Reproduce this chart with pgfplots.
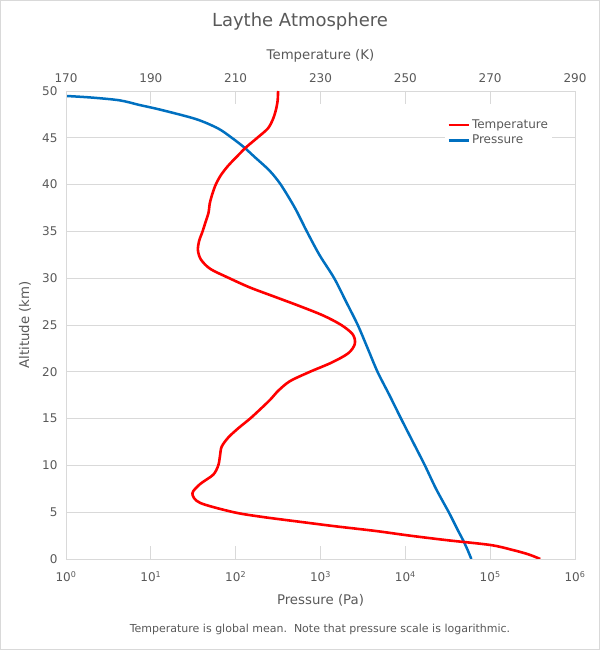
\documentclass[border=0pt]{standalone}
\usepackage{fontspec}
\setmainfont{DejaVu Sans}
\usepackage{pgfplots}
\pgfplotsset{compat=1.18}
\definecolor{tred}{HTML}{FF0000}
\definecolor{pblue}{HTML}{0070C0}
\definecolor{txt}{HTML}{595959}
\definecolor{gridc}{HTML}{D9D9D9}

\begin{document}
\begin{tikzpicture}
\useasboundingbox (0,0) rectangle (600pt,650pt);
\draw[gridc] (0.5pt,0.5pt) rectangle (599.5pt,649.5pt);

\pgfplotsset{
  common/.style={
    scale only axis, width=509pt, height=468pt,
    at={(66pt,91pt)}, anchor=south west,
    ymin=0, ymax=50,
    axis line style={gridc, line width=0.8pt},
    tick style={gridc, line width=0.8pt},
    major tick length=13pt,
    tick align=inside,
    ticklabel style={font=\fontsize{12}{14}\selectfont, text=txt},
    /pgf/number format/assume math mode=true,
    label style={font=\fontsize{13.3}{16}\selectfont, text=txt},
  }
}

% pressure, bottom log axis
\begin{axis}[common,
  xmode=log, xmin=1, xmax=1e6,
  xtick={1,10,100,1000,10000,100000,1000000},
  xticklabels={10\textsuperscript{0},10\textsuperscript{1},10\textsuperscript{2},10\textsuperscript{3},10\textsuperscript{4},10\textsuperscript{5},10\textsuperscript{6}},
  xtick pos=left, xticklabel pos=left,
  xminorticks=false,
  xticklabel style={yshift=-9pt},
  ytick={0,5,...,50}, ytick style={draw=none},
  yticklabel style={xshift=-5pt},
  ymajorgrids, grid style={gridc, line width=0.8pt},
  xlabel={Pressure (Pa)}, ylabel={Altitude (km)},
  xlabel style={at={(axis description cs:0.5,-0.0876)}, anchor=center},
  ylabel style={at={(axis description cs:-0.0806,0.5)}, anchor=center},
  title={Laythe Atmosphere},
  title style={at={(axis description cs:0.4597,1.135)}, anchor=center, yshift=0pt,
    font=\fontsize{18}{22}\selectfont, text=txt},
]
\addplot[pblue, line width=2.5pt, smooth, tension=0.5] coordinates {
(60000,0) (54000,1) (48000,2) (42000,3) (37000,4) (32500,5)
(23000,7.5) (17000,10) (12300,12.5) (8900,15) (6500,17.5) (4700,20)
(3600,22.5) (2750,25) (2000,27.5) (1450,30) (970,32.5) (690,35)
(500,37.5) (340,40) (250,41.5) (165,43) (125,44) (90,45) (62,46)
(34,47) (13,48) (7.4,48.5) (4.3,49) (2.0,49.3) (1,49.47)
};
\end{axis}

% temperature, top axis
\begin{axis}[common,
  xmin=170, xmax=290, xtick={170,190,...,290},
  xtick pos=right, xticklabel pos=right,
  xticklabel style={yshift=5pt},
  hide y axis,
  xlabel={Temperature (K)},
  xlabel style={at={(axis description cs:0.5,1.075)}, anchor=center},
  legend style={at={(axis description cs:0.745,0.947)}, anchor=north west,
    draw=none, fill=white, font=\fontsize{12}{14}\selectfont, text=txt,
    row sep=1pt, inner sep=2pt},
  legend cell align=left,
  legend image code/.code={\draw[#1] (0pt,0pt) -- (20pt,0pt);},
]
\addplot[tred, line width=2.6pt, smooth, tension=0.5] coordinates {
(281.8,0) (279.0,0.5) (275.0,1) (270.0,1.5) (260.0,2) (251.0,2.5)
(242.9,3) (233.4,3.5) (224.7,4) (216.2,4.5) (209.5,5) (201.6,6)
(199.8,7) (201.6,8) (204.7,9) (205.9,10) (206.3,11) (206.7,12)
(208.3,13) (210.7,14) (213.4,15) (215.8,16) (218.1,17) (220.1,18)
(222.8,19) (227.5,20) (232.7,21) (236.6,22) (238.1,23) (237.6,24)
(234.9,25) (230.7,26) (225.2,27) (219.3,28) (213.4,29) (208.5,30)
(204.0,31) (201.8,32) (201.1,33) (201.4,34) (202.2,35) (202.9,36)
(203.6,37) (203.9,38) (204.5,39) (205.3,40) (206.5,41) (208.2,42)
(210.3,43) (212.5,44) (215.1,45) (217.6,46) (218.8,47) (219.5,48)
(219.9,49) (220.0,50)
};
\addlegendentry{Temperature}
\addlegendimage{pblue, line width=2.5pt}
\addlegendentry{Pressure}
\end{axis}

\node[font=\fontsize{11}{13}\selectfont, text=txt] at (320pt,21pt)
  {Temperature is global mean.\ \ Note that pressure scale is logarithmic.};
\end{tikzpicture}
\end{document}
